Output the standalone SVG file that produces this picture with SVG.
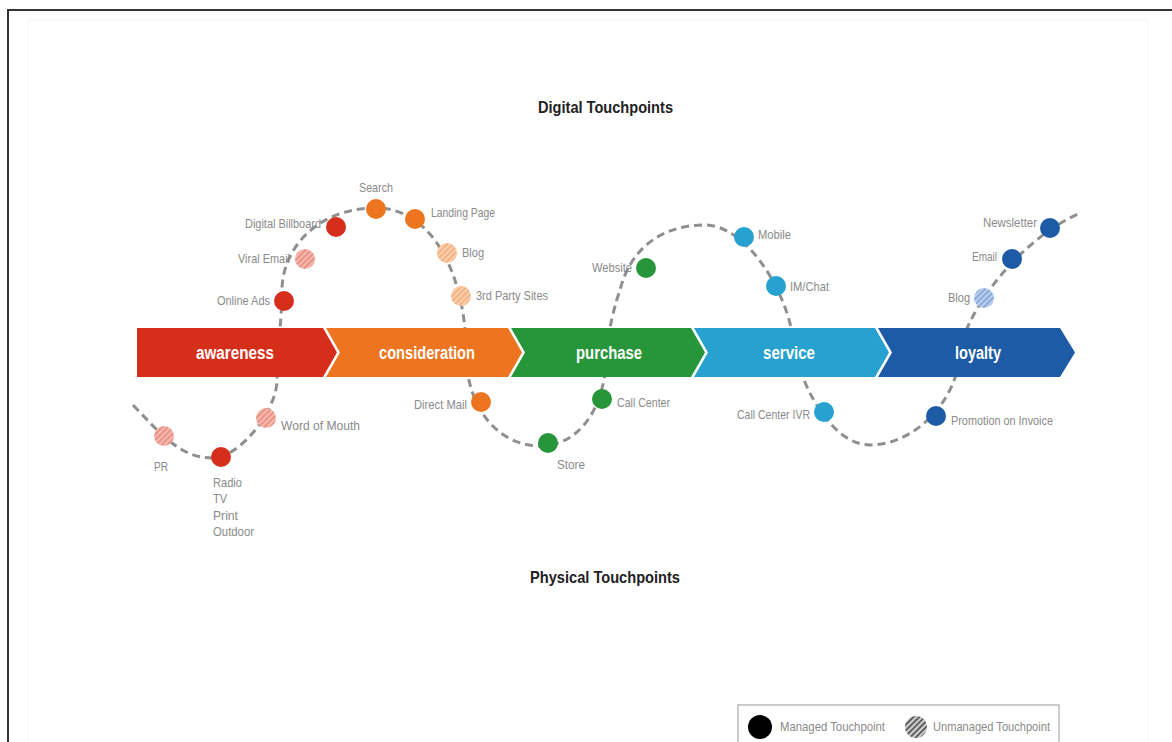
<svg xmlns="http://www.w3.org/2000/svg" width="1172" height="742" viewBox="0 0 1172 742">
<defs>
<style>
text{font-family:"Liberation Sans",Arial,sans-serif}
.lbl{font-size:13.5px;fill:#8a8a8a}
.ttl{font-size:17px;font-weight:bold;fill:#222}
.stg{font-size:18px;font-weight:bold;fill:#fff}
.wave{fill:none;stroke:#8f8f8f;stroke-width:3;stroke-dasharray:8 5}
</style>
<pattern id="hR" width="4" height="4" patternUnits="userSpaceOnUse" patternTransform="rotate(45)"><rect width="4" height="4" fill="#f6b9b0"/><rect width="1.6" height="4" fill="#e88a7c"/></pattern>
<pattern id="hO" width="4" height="4" patternUnits="userSpaceOnUse" patternTransform="rotate(45)"><rect width="4" height="4" fill="#f9cfad"/><rect width="1.6" height="4" fill="#f2ac78"/></pattern>
<pattern id="hB" width="4" height="4" patternUnits="userSpaceOnUse" patternTransform="rotate(45)"><rect width="4" height="4" fill="#bcd0ee"/><rect width="1.6" height="4" fill="#7fa0d6"/></pattern>
<pattern id="hK" width="4" height="4" patternUnits="userSpaceOnUse" patternTransform="rotate(45)"><rect width="4" height="4" fill="#d0d0d0"/><rect width="1.8" height="4" fill="#555"/></pattern>
</defs>
<rect width="1172" height="742" fill="#fff"/>
<rect x="28" y="20" width="1120" height="730" fill="none" stroke="#f3f3f3" stroke-width="1"/>
<path d="M7,10 H1172 M8,10 V742" fill="none" stroke="#333" stroke-width="2"/>

<text class="ttl" x="538" y="113" textLength="135" lengthAdjust="spacingAndGlyphs">Digital Touchpoints</text>
<text class="ttl" x="530" y="583" textLength="150" lengthAdjust="spacingAndGlyphs">Physical Touchpoints</text>

<g id="connectors">
<path class="wave" d="M133,405 C160,433 180,458 212,458 C240,458 277,410 277,380 C277,350 282,320 282,290 C282,250 316,208 376,208 C435,208 466,280 466,352 C466,410 500,446 540,446 C575,446 605,415 607,352 C609,320 620,290 620,290 C630,250 660,225 705,225 C745,225 790,290 795,352 C805,395 835,445 870,445 C915,445 958,400 960,352 C966,310 1020,240 1078,214"/>
</g>

<g id="stages">
<g id="stage-awareness"><polygon points="137,328 323,328 337,352.5 323,377 137,377" fill="#d52f1c"/><text class="stg" x="196" y="359" textLength="78" lengthAdjust="spacingAndGlyphs">awareness</text></g>
<g id="stage-consideration"><polygon points="326,328 508,328 522,352.5 508,377 326,377 340,352.5" fill="#ee7520"/><text class="stg" x="379" y="359" textLength="96" lengthAdjust="spacingAndGlyphs">consideration</text></g>
<g id="stage-purchase"><polygon points="511,328 691,328 705,352.5 691,377 511,377 525,352.5" fill="#27963a"/><text class="stg" x="576" y="359" textLength="66" lengthAdjust="spacingAndGlyphs">purchase</text></g>
<g id="stage-service"><polygon points="694,328 875,328 889,352.5 875,377 694,377 708,352.5" fill="#27a1cf"/><text class="stg" x="763" y="359" textLength="52" lengthAdjust="spacingAndGlyphs">service</text></g>
<g id="stage-loyalty"><polygon points="878,328 1060,328 1075,352.5 1060,377 878,377 892,352.5" fill="#1d5ba6"/><text class="stg" x="955" y="359" textLength="46" lengthAdjust="spacingAndGlyphs">loyalty</text></g>
</g>

<g id="n-online-ads"><circle cx="284" cy="301" r="10" fill="#d52f1c"/><text class="lbl" x="217" y="305" textLength="53" lengthAdjust="spacingAndGlyphs">Online Ads</text></g>
<g id="n-viral-email"><circle cx="305" cy="259" r="10" fill="url(#hR)"/><text class="lbl" x="238" y="263" textLength="52" lengthAdjust="spacingAndGlyphs">Viral Email</text></g>
<g id="n-digital-billboard"><circle cx="336" cy="227" r="10" fill="#d52f1c"/><text class="lbl" x="245" y="228" textLength="76" lengthAdjust="spacingAndGlyphs">Digital Billboard</text></g>
<g id="n-search"><circle cx="376" cy="209" r="10" fill="#ee7520"/><text class="lbl" x="359" y="192" textLength="34" lengthAdjust="spacingAndGlyphs">Search</text></g>
<g id="n-landing-page"><circle cx="415" cy="219" r="10" fill="#ee7520"/><text class="lbl" x="431" y="217" textLength="64" lengthAdjust="spacingAndGlyphs">Landing Page</text></g>
<g id="n-blog1"><circle cx="447" cy="253" r="10" fill="url(#hO)"/><text class="lbl" x="462" y="257" textLength="22" lengthAdjust="spacingAndGlyphs">Blog</text></g>
<g id="n-3rd-party"><circle cx="461" cy="296" r="10" fill="url(#hO)"/><text class="lbl" x="476" y="300" textLength="72" lengthAdjust="spacingAndGlyphs">3rd Party Sites</text></g>
<g id="n-website"><circle cx="646" cy="268" r="10" fill="#27963a"/><text class="lbl" x="592" y="272" textLength="40" lengthAdjust="spacingAndGlyphs">Website</text></g>
<g id="n-mobile"><circle cx="744" cy="237" r="10" fill="#27a1cf"/><text class="lbl" x="758" y="239" textLength="33" lengthAdjust="spacingAndGlyphs">Mobile</text></g>
<g id="n-imchat"><circle cx="776" cy="286" r="10" fill="#27a1cf"/><text class="lbl" x="790" y="291" textLength="39" lengthAdjust="spacingAndGlyphs">IM/Chat</text></g>
<g id="n-blog2"><circle cx="984" cy="298" r="10" fill="url(#hB)"/><text class="lbl" x="948" y="302" textLength="22" lengthAdjust="spacingAndGlyphs">Blog</text></g>
<g id="n-email"><circle cx="1012" cy="259" r="10" fill="#1d5ba6"/><text class="lbl" x="972" y="261" textLength="25" lengthAdjust="spacingAndGlyphs">Email</text></g>
<g id="n-newsletter"><circle cx="1050" cy="228" r="10" fill="#1d5ba6"/><text class="lbl" x="983" y="227" textLength="54" lengthAdjust="spacingAndGlyphs">Newsletter</text></g>

<g id="n-pr"><circle cx="164" cy="436" r="10" fill="url(#hR)"/><text class="lbl" x="154" y="471" textLength="14" lengthAdjust="spacingAndGlyphs">PR</text></g>
<g id="n-radio"><circle cx="221" cy="457" r="10" fill="#d52f1c"/><text class="lbl" x="213" y="487" textLength="29" lengthAdjust="spacingAndGlyphs">Radio</text><text class="lbl" x="213" y="503" textLength="14" lengthAdjust="spacingAndGlyphs">TV</text><text class="lbl" x="213" y="520" textLength="25" lengthAdjust="spacingAndGlyphs">Print</text><text class="lbl" x="213" y="536" textLength="41" lengthAdjust="spacingAndGlyphs">Outdoor</text></g>
<g id="n-word-of-mouth"><circle cx="266" cy="418" r="10" fill="url(#hR)"/><text class="lbl" x="281" y="430" textLength="79" lengthAdjust="spacingAndGlyphs">Word of Mouth</text></g>
<g id="n-direct-mail"><circle cx="481" cy="402" r="10" fill="#ee7520"/><text class="lbl" x="414" y="409" textLength="53" lengthAdjust="spacingAndGlyphs">Direct Mail</text></g>
<g id="n-store"><circle cx="548" cy="443" r="10" fill="#27963a"/><text class="lbl" x="557" y="469" textLength="28" lengthAdjust="spacingAndGlyphs">Store</text></g>
<g id="n-call-center"><circle cx="602" cy="399" r="10" fill="#27963a"/><text class="lbl" x="617" y="407" textLength="53" lengthAdjust="spacingAndGlyphs">Call Center</text></g>
<g id="n-call-center-ivr"><circle cx="824" cy="412" r="10" fill="#27a1cf"/><text class="lbl" x="737" y="419" textLength="73" lengthAdjust="spacingAndGlyphs">Call Center IVR</text></g>
<g id="n-promotion"><circle cx="936" cy="416" r="10" fill="#1d5ba6"/><text class="lbl" x="951" y="425" textLength="102" lengthAdjust="spacingAndGlyphs">Promotion on Invoice</text></g>

<g id="legend">
<rect x="738" y="705" width="321" height="45" fill="#fff" stroke="#aaa" stroke-width="1.2"/>
<circle cx="760" cy="727" r="12" fill="#000"/>
<text class="lbl" x="780" y="731" textLength="105" lengthAdjust="spacingAndGlyphs">Managed Touchpoint</text>
<circle cx="916" cy="727" r="11" fill="url(#hK)"/>
<text class="lbl" x="933" y="731" textLength="117" lengthAdjust="spacingAndGlyphs">Unmanaged Touchpoint</text>
</g>
</svg>
